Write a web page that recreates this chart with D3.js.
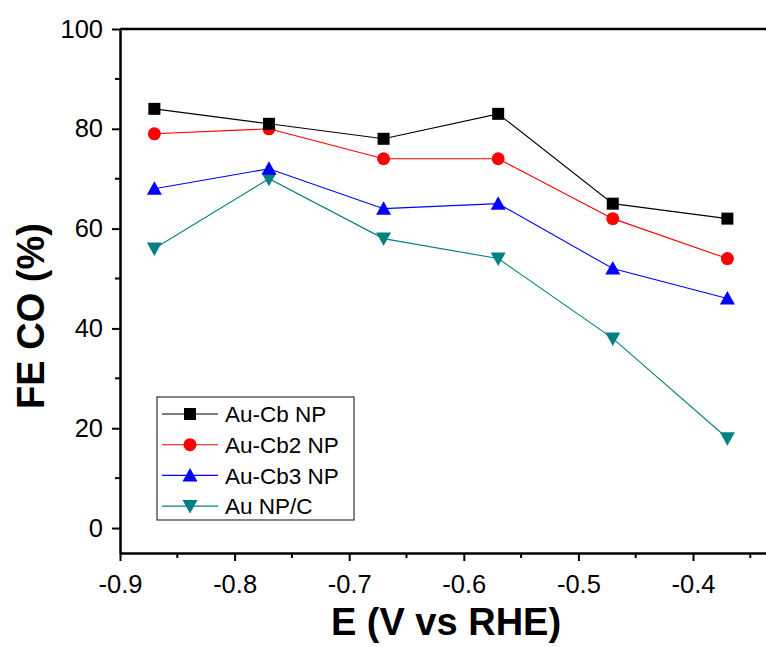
<!DOCTYPE html>
<html>
<head>
<meta charset="utf-8">
<script src="https://cdn.jsdelivr.net/npm/d3@7"></script>
<style>
  html, body { margin: 0; padding: 0; background: #fff; }
  svg { display: block; font-family: "Liberation Sans", Arial, sans-serif; }
</style>
</head>
<body>
<svg id="chart" width="766" height="647"></svg>
<script>
// Potentials (V vs RHE)
const potentials = [-0.87, -0.77, -0.67, -0.57, -0.47, -0.37];

// Faradaic efficiency for CO (%)
const auCb   = [84, 81, 78, 83, 65, 62];
const auCb2  = [79, 80, 74, 74, 62, 54];
const auCb3  = [68, 72, 64, 65, 52, 46];
const auNPC  = [56, 70, 58, 54, 38, 18];

const seriesNames = ["Au-Cb NP", "Au-Cb2 NP", "Au-Cb3 NP", "Au NP/C"];
const seriesColors = ["#000000", "#ff0000", "#0000ff", "#008080"];
const seriesSymbols = ["square", "circle", "triangle", "triangleDown"];

const xTicks = [-0.9, -0.8, -0.7, -0.6, -0.5, -0.4];
const yTicks = [0, 20, 40, 60, 80, 100];

const series = [auCb, auCb2, auCb3, auNPC].map((vals, i) => ({
  name: seriesNames[i], color: seriesColors[i], symbol: seriesSymbols[i],
  points: vals.map((v, j) => ({ x: potentials[j], y: v }))
}));

const svg = d3.select("#chart");
const plotLeft = 120, plotTop = 29, plotBottom = 553;

const x = d3.scaleLinear().domain([-0.9, -0.33]).range([plotLeft, plotLeft + 0.57 * 1146]);
const y = d3.scaleLinear().domain([-5, 100]).range([plotBottom, plotTop]);

const xMinor = [-0.85, -0.75, -0.65, -0.55, -0.45, -0.35];
const yMinor = [10, 30, 50, 70, 90];

const g = svg.append("g");
const fmt = d => d3.format(".1f")(d).replace("\u2212", "-");

// x axis
const xAxis = g.append("g").attr("transform", `translate(0,${plotBottom})`);
xAxis.call(d3.axisBottom(x).tickValues(xTicks).tickFormat(fmt).tickSize(8).tickSizeOuter(0))
  .call(s => s.select(".domain").attr("stroke-width", 2.5))
  .call(s => s.selectAll(".tick line").attr("stroke-width", 2))
  .call(s => s.selectAll(".tick text").attr("font-size", 25.5).attr("y", 40).attr("dy", 0)
    .attr("font-family", "Liberation Sans, Arial, sans-serif"));
xAxis.selectAll(".minor").data(xMinor).enter().append("line")
  .attr("x1", d => x(d)).attr("x2", d => x(d)).attr("y1", 0).attr("y2", 5)
  .attr("stroke", "#000").attr("stroke-width", 2);

// top frame line
g.append("line").attr("x1", plotLeft).attr("x2", 766).attr("y1", plotTop).attr("y2", plotTop)
  .attr("stroke", "#000").attr("stroke-width", 2.5);

// y axis
const yAxis = g.append("g").attr("transform", `translate(${plotLeft},0)`);
yAxis.call(d3.axisLeft(y).tickValues(yTicks).tickSize(8).tickSizeOuter(0))
  .call(s => s.select(".domain").attr("stroke-width", 2.5))
  .call(s => s.selectAll(".tick line").attr("stroke-width", 2))
  .call(s => s.selectAll(".tick text").attr("font-size", 25.5).attr("x", -17)
    .attr("font-family", "Liberation Sans, Arial, sans-serif"));
yAxis.selectAll(".minor").data(yMinor).enter().append("line")
  .attr("x1", 0).attr("x2", -5).attr("y1", d => y(d)).attr("y2", d => y(d))
  .attr("stroke", "#000").attr("stroke-width", 2);

// axis titles
svg.append("text").attr("x", 446).attr("y", 635).attr("text-anchor", "middle")
  .attr("font-size", 38).attr("font-weight", "bold").text("E (V vs RHE)");
svg.append("text").attr("transform", "translate(44,316) rotate(-90)").attr("text-anchor", "middle")
  .attr("font-size", 38).attr("font-weight", "bold").text("FE CO (%)");

// marker shapes
function marker(sel, symbol, color) {
  if (symbol === "square") {
    sel.append("rect").attr("x", -6).attr("y", -6).attr("width", 12).attr("height", 12).attr("fill", color);
  } else if (symbol === "circle") {
    sel.append("circle").attr("r", 6.5).attr("fill", color);
  } else if (symbol === "triangle") {
    sel.append("path").attr("d", "M0,-7.5L7.5,6L-7.5,6Z").attr("fill", color);
  } else {
    sel.append("path").attr("d", "M0,7.5L7.5,-6L-7.5,-6Z").attr("fill", color);
  }
}

const line = d3.line().x(d => x(d.x)).y(d => y(d.y));

series.slice().reverse().forEach(s => {
  g.append("path").datum(s.points).attr("d", line)
    .attr("fill", "none").attr("stroke", s.color).attr("stroke-width", 1.1);
});
series.slice().reverse().forEach(s => {
  s.points.forEach(p => {
    const m = g.append("g").attr("transform", `translate(${x(p.x)},${y(p.y)})`);
    marker(m, s.symbol, s.color);
  });
});

// legend
const lg = svg.append("g");
lg.append("rect").attr("x", 157).attr("y", 397).attr("width", 197).attr("height", 123)
  .attr("fill", "#fff").attr("stroke", "#333").attr("stroke-width", 1.2);
series.forEach((s, i) => {
  const cy = 414 + i * 30.7;
  lg.append("line").attr("x1", 162).attr("x2", 218).attr("y1", cy).attr("y2", cy)
    .attr("stroke", s.color).attr("stroke-width", 1.1);
  const m = lg.append("g").attr("transform", `translate(190,${cy})`);
  marker(m, s.symbol, s.color);
  lg.append("text").attr("x", 225).attr("y", cy).attr("dy", "0.36em")
    .attr("font-size", 22.5).text(s.name);
});
</script>
</body>
</html>
